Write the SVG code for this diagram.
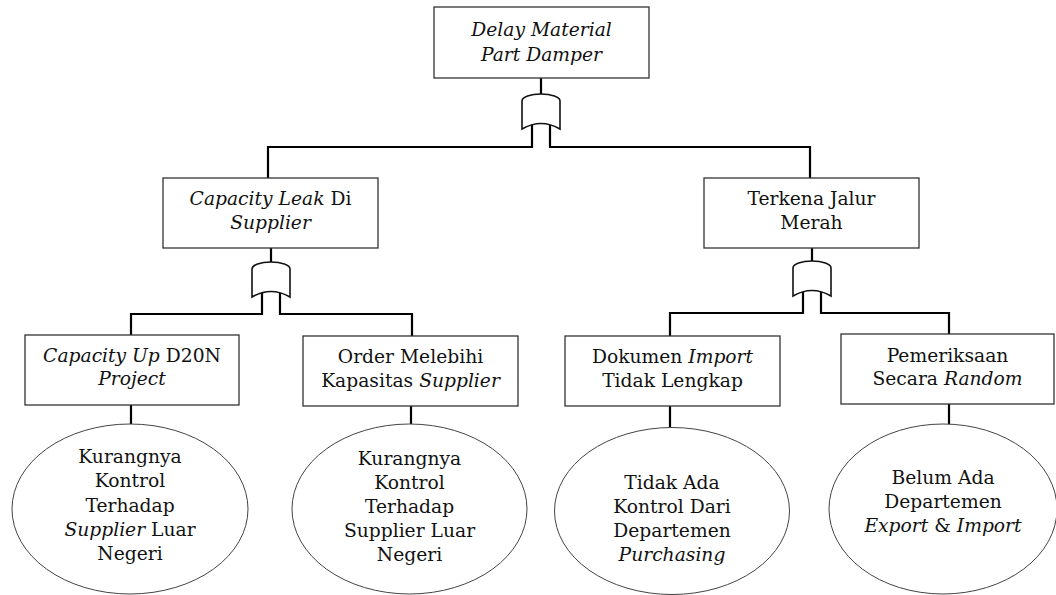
<svg xmlns="http://www.w3.org/2000/svg" width="1056" height="595" viewBox="0 0 1056 595">
<style>
.box{fill:#fff;stroke:#333;stroke-width:1.3}
.ell{fill:#fff;stroke:#444;stroke-width:1}
.gate{fill:#fff;stroke:#111;stroke-width:1.6}
.con{fill:none;stroke:#000;stroke-width:2.2}
text{font-family:"DejaVu Serif","Liberation Serif",serif;font-size:18.7px;fill:#111;text-anchor:middle}
.i{font-style:italic}
</style>
<rect width="1056" height="595" fill="#fff"/>
<g id="connectors">
<path class="con" d="M541,78 V95 M532,124 V147 H268 V178 M550,124 V147 H810 V178"/>
<path class="con" d="M271,248 V263 M262,292 V314 H131 V335 M280,292 V314 H412 V336"/>
<path class="con" d="M812,248 V262 M803,291 V313 H670 V336 M821,291 V313 H949 V334"/>
<path class="con" d="M131,405 V424 M411,406 V424 M670,406 V427 M949,404 V424"/>
</g>
<g id="gates">
<path class="gate" d="M522,101 A19,7 0 0 1 560,101 V129 Q541,118 522,129 Z"/>
<path class="gate" d="M252,269 A19,7 0 0 1 290,269 V297 Q271,286 252,297 Z"/>
<path class="gate" d="M793,268 A19,7 0 0 1 831,268 V296 Q812,285 793,296 Z"/>
</g>
<g id="n-top">
<rect class="box" x="434" y="7" width="215" height="71"/>
<text x="541.5" y="35.5" class="i">Delay Material</text>
<text x="541.5" y="61" class="i">Part Damper</text>
</g>
<g id="n-capacity-leak">
<rect class="box" x="163" y="178" width="215" height="70"/>
<text x="270.5" y="205"><tspan class="i">Capacity Leak</tspan> Di</text>
<text x="270.5" y="229" class="i">Supplier</text>
</g>
<g id="n-jalur-merah">
<rect class="box" x="704" y="178" width="215" height="70"/>
<text x="811.5" y="205">Terkena Jalur</text>
<text x="811.5" y="229">Merah</text>
</g>
<g id="n-capacity-up">
<rect class="box" x="25" y="335" width="214" height="70"/>
<text x="132" y="362"><tspan class="i">Capacity Up</tspan> D20N</text>
<text x="132" y="385" class="i">Project</text>
</g>
<g id="n-order">
<rect class="box" x="303" y="336" width="215" height="70"/>
<text x="410.5" y="363">Order Melebihi</text>
<text x="410.5" y="387">Kapasitas <tspan class="i">Supplier</tspan></text>
</g>
<g id="n-dokumen">
<rect class="box" x="565" y="336" width="215" height="70"/>
<text x="672.5" y="363">Dokumen <tspan class="i">Import</tspan></text>
<text x="672.5" y="387">Tidak Lengkap</text>
</g>
<g id="n-pemeriksaan">
<rect class="box" x="841" y="334" width="213" height="70"/>
<text x="947.5" y="362">Pemeriksaan</text>
<text x="947.5" y="385">Secara <tspan class="i">Random</tspan></text>
</g>
<g id="e1">
<ellipse class="ell" cx="130" cy="509" rx="118" ry="85"/>
<text x="130" y="463">Kurangnya</text>
<text x="130" y="487">Kontrol</text>
<text x="130" y="512">Terhadap</text>
<text x="130" y="536"><tspan class="i">Supplier</tspan> Luar</text>
<text x="130" y="560">Negeri</text>
</g>
<g id="e2">
<ellipse class="ell" cx="409.5" cy="509" rx="117.5" ry="85"/>
<text x="409.5" y="465">Kurangnya</text>
<text x="409.5" y="489">Kontrol</text>
<text x="409.5" y="513">Terhadap</text>
<text x="409.5" y="537">Supplier Luar</text>
<text x="409.5" y="561">Negeri</text>
</g>
<g id="e3">
<ellipse class="ell" cx="672" cy="511" rx="117.5" ry="83.5"/>
<text x="672" y="489">Tidak Ada</text>
<text x="672" y="513">Kontrol Dari</text>
<text x="672" y="537">Departemen</text>
<text x="672" y="561" class="i">Purchasing</text>
</g>
<g id="e4">
<ellipse class="ell" cx="943" cy="509" rx="114" ry="85"/>
<text x="943" y="484">Belum Ada</text>
<text x="943" y="508">Departemen</text>
<text x="943" y="532"><tspan class="i">Export</tspan> &amp; <tspan class="i">Import</tspan></text>
</g>
</svg>
